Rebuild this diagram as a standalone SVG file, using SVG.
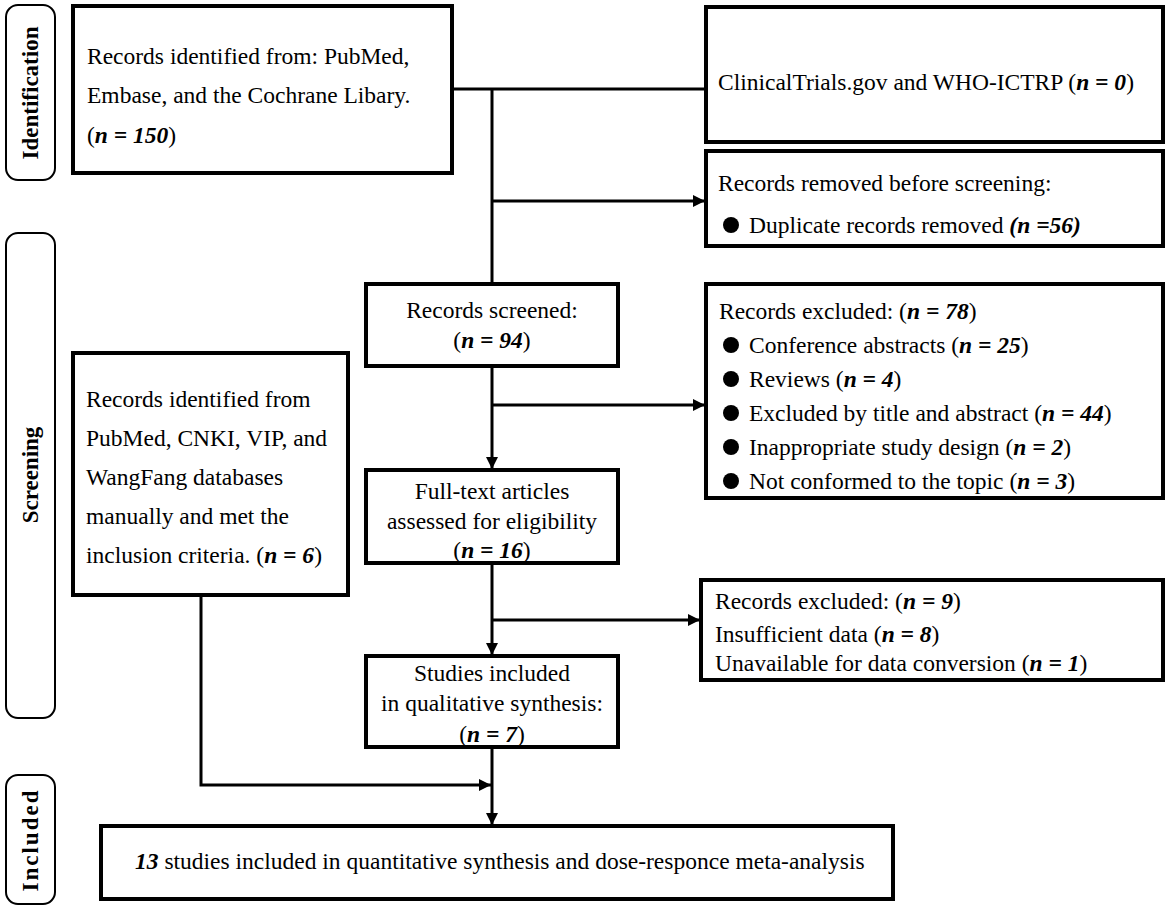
<svg xmlns="http://www.w3.org/2000/svg" width="1170" height="910" viewBox="0 0 1170 910">
<style>
.pill{fill:#fff;stroke:#000;stroke-width:2}
.box{fill:#fff;stroke:#000;stroke-width:4}
.lbl{font-family:"Liberation Serif","Times New Roman",serif;font-weight:bold;font-size:23px;fill:#000}
.t{font-family:"Liberation Serif","Times New Roman",serif;font-size:23.5px;fill:#000}
.m{text-anchor:middle}
.n{font-weight:bold;font-style:italic}
.line{fill:none;stroke:#000;stroke-width:3}
.arr{fill:none;stroke:#000;stroke-width:3;marker-end:url(#ah)}
.dot{fill:#000}
</style>
<defs>
<marker id="ah" viewBox="0 0 10 10" refX="10" refY="5" markerWidth="4" markerHeight="4" orient="auto" markerUnits="strokeWidth">
<path d="M0,0 L10,5 L0,10 Z" fill="#000"/>
</marker>
</defs>
<rect width="1170" height="910" fill="#fff"/>

<g id="phase-identification">
<rect class="pill" x="6" y="5" width="49" height="175" rx="12"/>
<text class="lbl m" transform="translate(38,93) rotate(-90)">Identification</text>
</g>
<g id="phase-screening">
<rect class="pill" x="6" y="233" width="49" height="485" rx="12"/>
<text class="lbl m" transform="translate(38,475) rotate(-90)">Screening</text>
</g>
<g id="phase-included">
<rect class="pill" x="6" y="775" width="49" height="129" rx="12"/>
<text class="lbl m" transform="translate(38,840) rotate(-90)" letter-spacing="2">Included</text>
</g>

<g id="connectors">
<path class="line" d="M452,89 H706"/>
<path class="line" d="M492,89 V284"/>
<path class="arr" d="M492,201 H705"/>
<path class="arr" d="M492,366 V469"/>
<path class="arr" d="M492,405 H705"/>
<path class="arr" d="M492,563 V655"/>
<path class="arr" d="M492,620 H700"/>
<path class="arr" d="M492,747 V825"/>
<path class="arr" d="M201,595 V785 H491"/>
</g>

<g id="node-db-records">
<rect class="box" x="73" y="6" width="379" height="167"/>
<text class="t" x="87" y="64">Records identified from: PubMed,</text>
<text class="t" x="87" y="103">Embase, and the Cochrane Libary.</text>
<text class="t" x="87" y="143">(<tspan class="n">n = 150</tspan>)</text>
</g>

<g id="node-registers">
<rect class="box" x="706" y="7" width="457" height="135"/>
<text class="t" x="718" y="90">ClinicalTrials.gov and WHO-ICTRP (<tspan class="n">n = 0</tspan>)</text>
</g>

<g id="node-removed">
<rect class="box" x="706" y="151" width="457" height="95"/>
<text class="t" x="718" y="191">Records removed before screening:</text>
<circle class="dot" cx="731" cy="225" r="8"/>
<text class="t" x="749" y="233">Duplicate records removed <tspan class="n">(n =56)</tspan></text>
</g>

<g id="node-screened">
<rect class="box" x="366" y="284" width="252" height="82"/>
<text class="t m" x="492" y="318">Records screened:</text>
<text class="t m" x="492" y="348">(<tspan class="n">n = 94</tspan>)</text>
</g>

<g id="node-excluded-78">
<rect class="box" x="706" y="284" width="457" height="214"/>
<text class="t" x="719" y="319">Records excluded: (<tspan class="n">n = 78</tspan>)</text>
<circle class="dot" cx="731" cy="345" r="8"/>
<text class="t" x="749" y="353">Conference abstracts (<tspan class="n">n = 25</tspan>)</text>
<circle class="dot" cx="731" cy="379" r="8"/>
<text class="t" x="749" y="387">Reviews (<tspan class="n">n = 4</tspan>)</text>
<circle class="dot" cx="731" cy="413" r="8"/>
<text class="t" x="749" y="421">Excluded by title and abstract (<tspan class="n">n = 44</tspan>)</text>
<circle class="dot" cx="731" cy="447" r="8"/>
<text class="t" x="749" y="455">Inappropriate study design (<tspan class="n">n = 2</tspan>)</text>
<circle class="dot" cx="731" cy="481" r="8"/>
<text class="t" x="749" y="489">Not conformed to the topic (<tspan class="n">n = 3</tspan>)</text>
</g>

<g id="node-manual">
<rect class="box" x="73" y="353" width="275" height="242"/>
<text class="t" x="86" y="407">Records identified from</text>
<text class="t" x="86" y="446">PubMed, CNKI, VIP, and</text>
<text class="t" x="86" y="485">WangFang databases</text>
<text class="t" x="86" y="524">manually and met the</text>
<text class="t" x="86" y="563">inclusion criteria. (<tspan class="n">n = 6</tspan>)</text>
</g>

<g id="node-fulltext">
<rect class="box" x="366" y="470" width="252" height="93"/>
<text class="t m" x="492" y="499">Full-text articles</text>
<text class="t m" x="492" y="529">assessed for eligibility</text>
<text class="t m" x="492" y="558">(<tspan class="n">n = 16</tspan>)</text>
</g>

<g id="node-excluded-9">
<rect class="box" x="701" y="580" width="462" height="100"/>
<text class="t" x="715" y="609">Records excluded: (<tspan class="n">n = 9</tspan>)</text>
<text class="t" x="715" y="642">Insufficient data (<tspan class="n">n = 8</tspan>)</text>
<text class="t" x="715" y="671">Unavailable for data conversion (<tspan class="n">n = 1</tspan>)</text>
</g>

<g id="node-qualitative">
<rect class="box" x="366" y="656" width="252" height="91"/>
<text class="t m" x="492" y="681">Studies included</text>
<text class="t m" x="492" y="711">in qualitative synthesis:</text>
<text class="t m" x="492" y="742">(<tspan class="n">n = 7</tspan>)</text>
</g>

<g id="node-quantitative">
<rect class="box" x="101" y="826" width="792" height="73"/>
<text class="t" x="135" y="869" font-size="24.3"><tspan class="n">13</tspan> studies included in quantitative synthesis and dose-responce meta-analysis</text>
</g>
</svg>
